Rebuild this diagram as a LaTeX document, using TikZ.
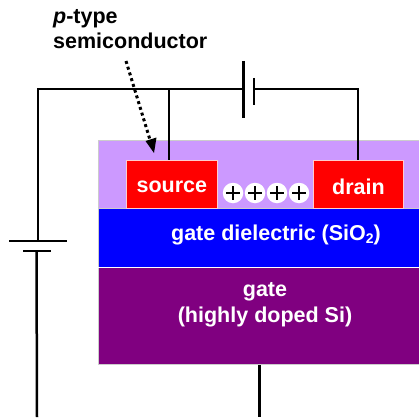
\documentclass[tikz,border=0pt]{standalone}
\usepackage{fontspec}
\setmainfont{Liberation Sans}
\usetikzlibrary{arrows.meta,calc}
\definecolor{lilac}{HTML}{CC99FF}
\definecolor{gatepurple}{HTML}{800080}
\tikzset{
 x=1pt,y=-1pt,
 wire/.style={line width=2.5pt,black},
 lab/.style={text=white,font=\bfseries\fontsize{21.5}{26}\selectfont,align=center,inner sep=0pt},
 charge/.style={circle,fill=white,minimum size=20.5pt,inner sep=0pt},
 note/.style={text=black,font=\bfseries\fontsize{21.5}{25}\selectfont,align=left,inner sep=0pt,anchor=north west}
}
\begin{document}
\begin{tikzpicture}
\useasboundingbox (0,0) rectangle (419,417);
% layers
\fill[black!20] (97.5,139.5) rectangle (419,365);
\fill[lilac] (98.5,140.5) rectangle (419,208);
\node[fill=red,draw=white!80!red,line width=.8pt,minimum width=91pt,minimum height=48pt,inner sep=0,anchor=north west] (source) at (126,160) {};
\node[lab] at ($(source.center)+(0,2.5)$) {source};
\node[fill=red,draw=white!80!red,line width=.8pt,minimum width=90pt,minimum height=48pt,inner sep=0,anchor=north west] (drain) at (313,160) {};
\node[lab] at ($(drain.center)+(0,2.5)$) {drain};
\fill[blue] (98.5,208.5) rectangle (419,267);
\fill[gatepurple] (98.5,267.5) rectangle (419,364);
\draw[white,line width=.8pt] (98,267.3) -- (419,267.3);
\node[lab] (diel) at (276,235) {gate dielectric (SiO\raisebox{-3pt}{\fontsize{14}{14}\selectfont 2})};
\node[lab] (gatelab) at (265,305) {gate\\(highly doped Si)};
% charges
\foreach \n/\x in {1/233,2/255,3/277,4/299}{
 \node[charge] (c\n) at (\x,193) {};
 \draw[line width=1.7pt] (\x-7,193) -- (\x+7,193) (\x,186) -- (\x,200);
}
% circuit
\coordinate (tl) at (38,89);
\coordinate (b1a) at (243.5,89);
\coordinate (b1b) at (254,89);
\coordinate (tr) at (358,89);
\coordinate (sj) at (169,89);
\coordinate (p1) at (38,241);
\coordinate (p2) at (36.5,251);
\coordinate (bl) at (37,417);
\coordinate (gb) at (259.5,417);
\draw[wire,line join=miter] (p1) -- (tl) -- (b1a);
\draw[wire] (sj) -- (169,160);
\draw[wire] (b1b) -- (tr) -- (358,160);
\draw[wire] (243.5,61) -- (243.5,118);
\draw[wire] (254,78) -- (254,104.5);
\draw[wire] (9,241) -- (67,241);
\draw[wire] (23,251) -- (51,251);
\draw[wire] (p2) -- (bl);
\draw[wire] (259.5,365) -- (gb);
% note
\node[note] (note) at (53,9) {\textit{p}-type\\semiconductor};
\coordinate (as) at (126,61);
\coordinate (ae) at (154,153);
\draw[line width=3pt,dash pattern=on 3pt off 3pt] (as) -- ($(as)!0.88!(ae)$);
\fill (ae) -- ++(-8.5,-12) -- ++(11,-3.5) -- cycle;
\end{tikzpicture}
\end{document}
